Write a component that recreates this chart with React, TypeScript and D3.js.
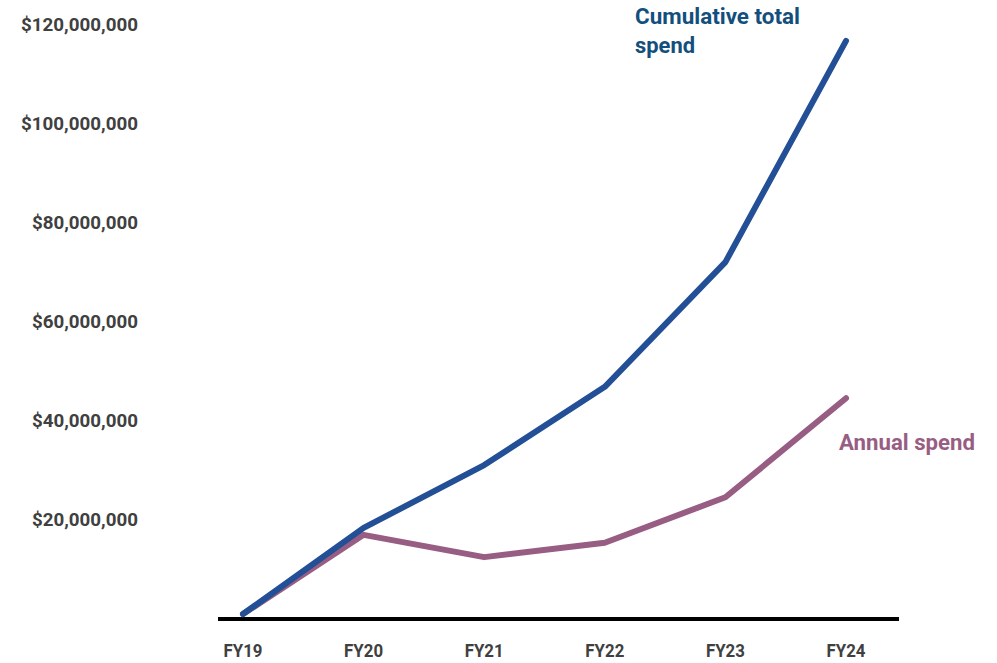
import React from "react";
import * as d3 from "d3";

const years = ["FY19", "FY20", "FY21", "FY22", "FY23", "FY24"];
const cumulativeSpend = [1.0e6, 18.4e6, 31.1e6, 46.9e6, 72.1e6, 116.8e6];
const annualSpend = [1.0e6, 17.0e6, 12.5e6, 15.4e6, 24.6e6, 44.6e6];
const yTicks = [20e6, 40e6, 60e6, 80e6, 100e6, 120e6];

const W = 997;
const H = 663;
const FONT = "Roboto, 'Liberation Sans', sans-serif";

const x = d3.scalePoint<string>().domain(years).range([243, 846]);
const y = d3.scaleLinear().domain([0, 120e6]).range([619, 25]);

const fmt = (v: number) => "$" + d3.format(",")(v);

const line = d3
  .line<number>()
  .x((_, i) => x(years[i]) as number)
  .y((d) => y(d));

export default function App() {
  return (
    <svg
      width={W}
      height={H}
      style={{ position: "absolute", left: 0, top: 0, background: "#fff" }}
      fontFamily={FONT}
    >
      {yTicks.map((t) => {
        const label = fmt(t);
        return (
          <text
            key={t}
            x={138}
            y={y(t)}
            dy="0.36em"
            textAnchor="end"
            fontSize={18}
            fontWeight={700}
            fill="#404040"
            textLength={label.length === 12 ? 117 : 106}
            lengthAdjust="spacingAndGlyphs"
          >
            {label}
          </text>
        );
      })}
      {years.map((yr) => (
        <text
          key={yr}
          x={x(yr)}
          y={651}
          dy="0.36em"
          textAnchor="middle"
          fontSize={18}
          fontWeight={700}
          fill="#404040"
          textLength={39}
          lengthAdjust="spacingAndGlyphs"
        >
          {yr}
        </text>
      ))}
      <line x1={218} x2={899} y1={y(0)} y2={y(0)} stroke="#000" strokeWidth={4} />
      <path
        d={line(annualSpend) ?? ""}
        fill="none"
        stroke="#985d82"
        strokeWidth={6}
        strokeLinejoin="round"
        strokeLinecap="round"
      />
      <path
        d={line(cumulativeSpend) ?? ""}
        fill="none"
        stroke="#234f96"
        strokeWidth={6}
        strokeLinejoin="round"
        strokeLinecap="round"
      />
      <text
        x={635}
        y={16}
        dy="0.36em"
        fontSize={22}
        fontWeight={700}
        fill="#134f7c"
        textLength={165}
        lengthAdjust="spacingAndGlyphs"
      >
        Cumulative total
      </text>
      <text
        x={635}
        y={45}
        dy="0.36em"
        fontSize={22}
        fontWeight={700}
        fill="#134f7c"
        textLength={60}
        lengthAdjust="spacingAndGlyphs"
      >
        spend
      </text>
      <text
        x={839}
        y={442}
        dy="0.36em"
        fontSize={22}
        fontWeight={700}
        fill="#985d82"
        textLength={136}
        lengthAdjust="spacingAndGlyphs"
      >
        Annual spend
      </text>
    </svg>
  );
}
